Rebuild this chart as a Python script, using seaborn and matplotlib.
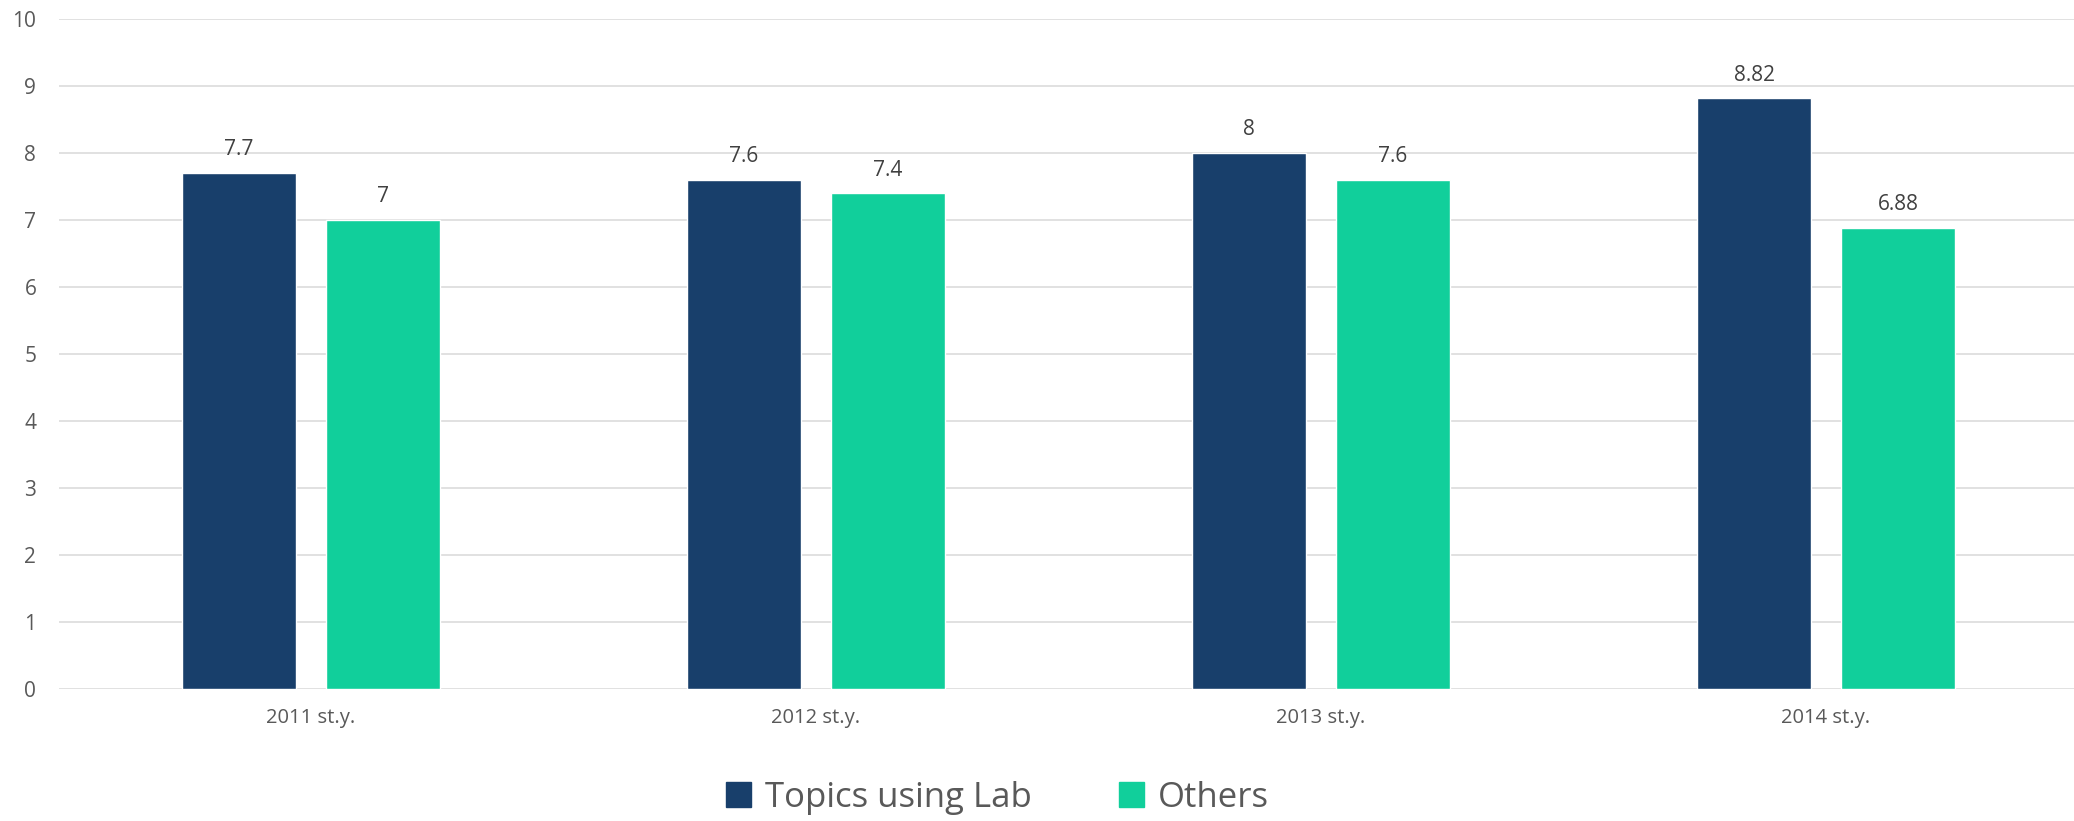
import matplotlib
matplotlib.use("Agg")
import matplotlib.pyplot as plt
import seaborn as sns
import pandas as pd

years = ["2011 st.y.", "2012 st.y.", "2013 st.y.", "2014 st.y."]
series_names = ["Topics using Lab", "Others"]
lab_values = [7.7, 7.6, 8.0, 8.82]
other_values = [7.0, 7.4, 7.6, 6.88]
lab_labels = ["7.7", "7.6", "8", "8.82"]
other_labels = ["7", "7.4", "7.6", "6.88"]
colors = ["#183F6B", "#11CF9B"]

df = pd.DataFrame({
    "year": years * 2,
    "series": [series_names[0]] * len(years) + [series_names[1]] * len(years),
    "value": lab_values + other_values,
})

sns.set_theme(style="white")
plt.rcParams["font.family"] = ["Open Sans", "DejaVu Sans"]

fig = plt.figure(figsize=(20.74, 8.21), dpi=100)
ax = fig.add_axes([58.5 / 2074, 1 - 688.5 / 821, 2020 / 2074, (688.5 - 19) / 821])

sns.barplot(data=df, x="year", y="value", hue="series", palette=colors,
            width=0.57, gap=0.21, ax=ax, legend=False, saturation=1)

ax.set_xlim(-0.5, 3.5)
ax.set_ylim(0, 10)
ax.set_yticks(range(0, 11))
ax.set_xlabel("")
ax.set_ylabel("")
ax.grid(axis="y", color="#D9D9D9", linewidth=1.1)
ax.set_axisbelow(True)
for s in ax.spines.values():
    s.set_visible(False)
ax.tick_params(axis="y", length=0, pad=16, labelsize=15, labelcolor="#595959")
ax.tick_params(axis="x", length=0, pad=14, labelsize=14.5, labelcolor="#595959")

for cont, labs in zip(ax.containers, [lab_labels, other_labels]):
    ax.bar_label(cont, labels=labs, padding=9, fontsize=15, color="#404040")

handles = [plt.Rectangle((0, 0), 1, 1, color=c) for c in colors]
fig.legend(handles, series_names, loc="center", bbox_to_anchor=(0.481, 0.028),
           ncol=2, frameon=False, fontsize=25, labelcolor="#595959",
           handlelength=0.72, handleheight=0.72, handletextpad=0.4,
           columnspacing=2.5)

fig.savefig("out.png", dpi=100)
